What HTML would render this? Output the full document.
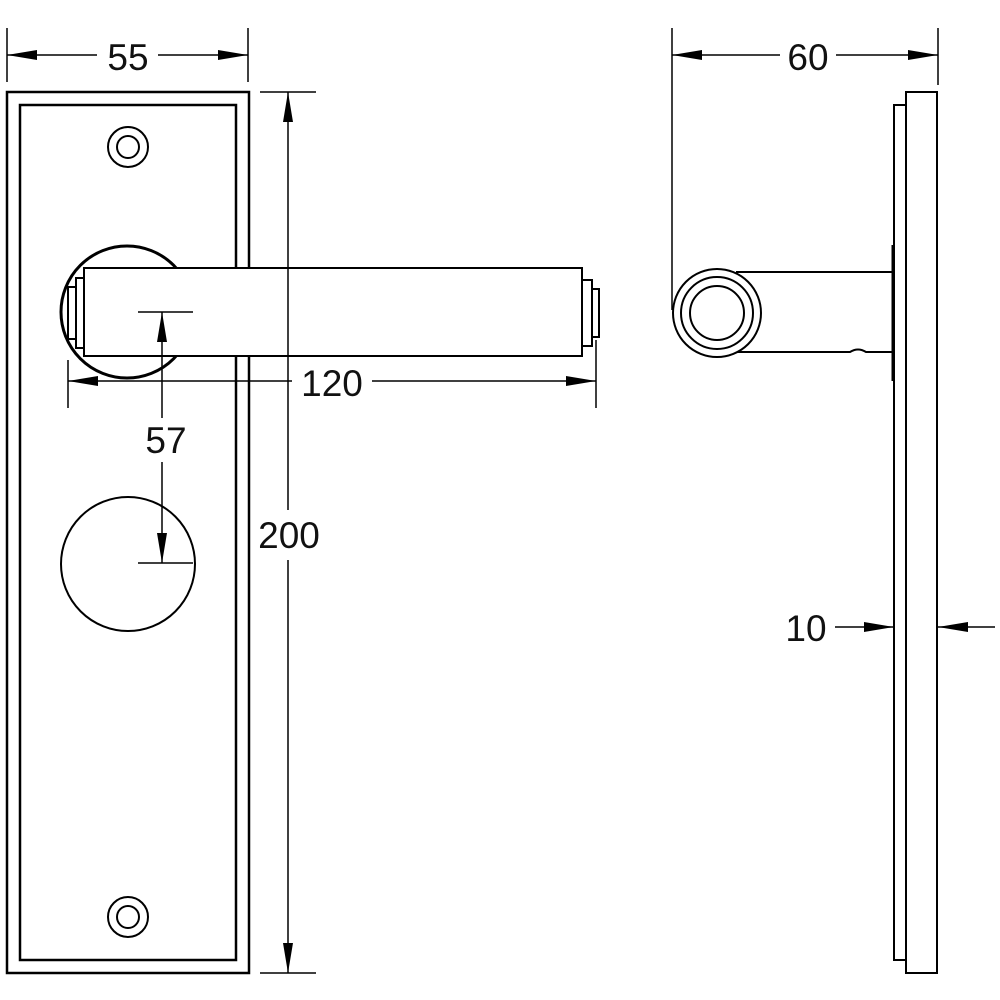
<!DOCTYPE html>
<html><head><style>html,body{margin:0;padding:0;background:#fff}svg{display:block}</style></head>
<body>
<svg width="1000" height="1000" viewBox="0 0 1000 1000" xmlns="http://www.w3.org/2000/svg">
<defs>
<marker id="a" viewBox="0 0 30 10" refX="30" refY="5" markerWidth="30" markerHeight="10" markerUnits="userSpaceOnUse" orient="auto-start-reverse"><path d="M0,0 L30,5 L0,10 Z" fill="#000"/></marker>
</defs>
<g fill="none" stroke="#000" stroke-width="1.5">
<line x1="7" y1="28" x2="7" y2="82"/><line x1="248" y1="28" x2="248" y2="82"/>
<line x1="7" y1="55" x2="97" y2="55" marker-start="url(#a)"/><line x1="158" y1="55" x2="248" y2="55" marker-end="url(#a)"/>
<line x1="672" y1="28" x2="672" y2="310"/><line x1="938" y1="28" x2="938" y2="85"/>
<line x1="672" y1="55" x2="780" y2="55" marker-start="url(#a)"/><line x1="836" y1="55" x2="938" y2="55" marker-end="url(#a)"/>
<line x1="260" y1="92" x2="316" y2="92"/><line x1="260" y1="973" x2="316" y2="973"/>
</g>
<g fill="none" stroke="#000" stroke-width="2.5">
<rect x="7" y="92" width="242" height="881" fill="#fff"/>
<rect x="20" y="105" width="216" height="855"/>
<circle cx="128" cy="147" r="20" stroke-width="2"/><circle cx="128" cy="147" r="11" stroke-width="2"/>
<circle cx="128" cy="917" r="20" stroke-width="2"/><circle cx="128" cy="917" r="11" stroke-width="2"/>
<circle cx="128" cy="564" r="67" stroke-width="2"/>
<circle cx="127" cy="312" r="66" stroke-width="3"/>
</g>
<g fill="#fff" stroke="#000" stroke-width="2">
<rect x="68" y="287" width="8" height="52"/>
<rect x="76" y="278" width="8" height="70"/>
<rect x="84" y="268" width="498" height="88"/>
<rect x="582" y="280" width="10" height="66"/>
<rect x="592" y="289" width="7" height="48"/>
</g>
<g fill="none" stroke="#000" stroke-width="1.5">
<line x1="288" y1="92" x2="288" y2="510" marker-start="url(#a)"/><line x1="288" y1="560" x2="288" y2="973" marker-end="url(#a)"/>
<line x1="68" y1="360" x2="68" y2="408"/><line x1="596" y1="340" x2="596" y2="408"/>
<line x1="68" y1="381" x2="292" y2="381" marker-start="url(#a)"/><line x1="372" y1="381" x2="596" y2="381" marker-end="url(#a)"/>
<line x1="138" y1="312" x2="193" y2="312"/><line x1="138" y1="563" x2="193" y2="563"/>
<line x1="162" y1="312" x2="162" y2="418" marker-start="url(#a)"/><line x1="162" y1="462" x2="162" y2="563" marker-end="url(#a)"/>
<line x1="835" y1="627" x2="894" y2="627" marker-end="url(#a)"/>
<line x1="995" y1="627" x2="938" y2="627" marker-end="url(#a)"/>
</g>
<g fill="none" stroke="#000" stroke-width="2">
<rect x="894" y="105" width="12" height="855"/>
<rect x="906" y="92" width="31" height="881"/>
<line x1="893" y1="245" x2="893" y2="381" stroke-width="3"/>
<path d="M736,272 L893,272 M736,352 L850,352 Q858,347 866,352 L893,352"/>
<circle cx="717" cy="313" r="44" fill="#fff"/>
<circle cx="717" cy="313" r="36"/>
<circle cx="717" cy="313" r="27"/>
</g>
<g font-family="'Liberation Sans', sans-serif" font-size="37" fill="#111" text-anchor="middle">
<text x="128" y="70">55</text>
<text x="808" y="70">60</text>
<text x="332" y="396">120</text>
<text x="166" y="453">57</text>
<text x="289" y="548">200</text>
<text x="806" y="641">10</text>
</g>
</svg>
</body></html>
